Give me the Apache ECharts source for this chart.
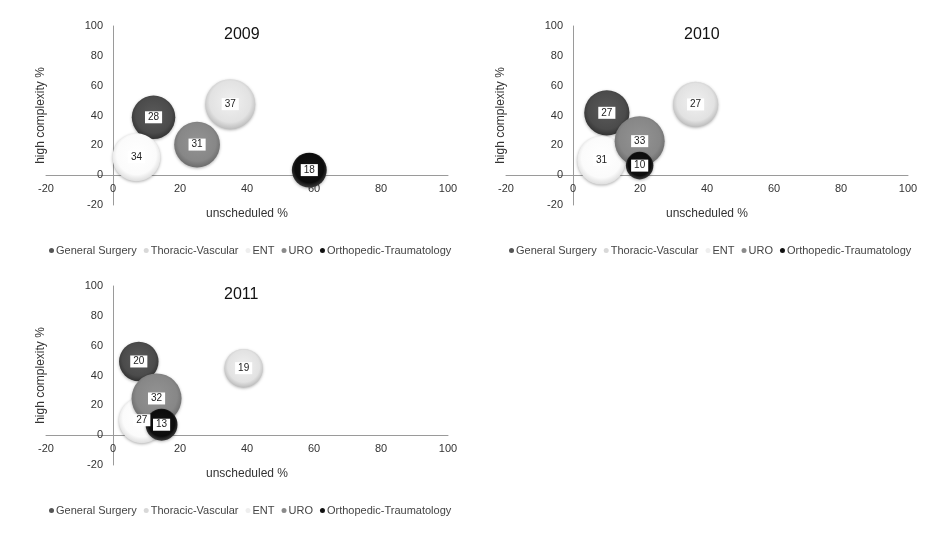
<!DOCTYPE html>
<html>
<head>
<meta charset="utf-8">
<script src="https://cdn.jsdelivr.net/npm/echarts@6/dist/echarts.min.js"></script>
<style>
html,body{margin:0;padding:0;background:#fff;}
#c{width:950px;height:555px;}
</style>
</head>
<body>
<div id="c"></div>
<script>
// ---- data ----
var seriesNames = ['General Surgery', 'Thoracic-Vascular', 'ENT', 'URO', 'Orthopedic-Traumatology'];
var years = ['2009', '2010', '2011'];
// [unscheduled %, high complexity %, size]
var data2009 = [
  [12.1, 38.8, 28],
  [35.0, 47.6, 37],
  [7.0, 12.0, 34],
  [25.1, 20.5, 31],
  [58.6, 3.4, 18]
];
var data2010 = [
  [10.1, 41.8, 27],
  [36.6, 47.4, 27],
  [8.5, 10.0, 31],
  [19.9, 22.8, 33],
  [19.9, 6.4, 10]
];
var data2011 = [
  [7.7, 49.4, 20],
  [39.0, 44.9, 19],
  [8.6, 10.0, 27],
  [13.0, 24.6, 32],
  [14.5, 7.0, 13]
];
var yearData = [data2009, data2010, data2011];
var axisTicks = [-20, 0, 20, 40, 60, 80, 100];

// ---- styles ----
function grad(light, base, dark) {
  return new echarts.graphic.RadialGradient(0.5, 0.45, 0.55, [
    {offset: 0, color: light},
    {offset: 0.75, color: base},
    {offset: 1, color: dark}
  ]);
}
var colors = [
  grad('#5a5a5a', '#4b4b4b', '#333333'),
  grad('#f0f0f0', '#e2e2e2', '#bdbdbd'),
  grad('#ffffff', '#fbfbfb', '#dedede'),
  grad('#939393', '#878787', '#6c6c6c'),
  grad('#151515', '#0c0c0c', '#3a3a3a')
];
var legendColors = ['#555555', '#d8d8d8', '#eeeeee', '#8a8a8a', '#111111'];
var FONT = 'Liberation Sans, Arial, Helvetica, sans-serif';

var grids = [
  {left: 46, top: 26, width: 402, height: 179},
  {left: 506, top: 26, width: 402, height: 179},
  {left: 46, top: 286, width: 402, height: 179}
];
var titlePos = [[224, 27], [684, 27], [224, 287]];
var legendPos = [[44, 240], [504, 240], [44, 500]];

var option = {
  backgroundColor: '#fff',
  animation: false,
  title: [], grid: [], xAxis: [], yAxis: [], legend: [], series: []
};

var aMin = axisTicks[0], aMax = axisTicks[axisTicks.length - 1];
var zeroFrac = (0 - aMin) / (aMax - aMin);

years.forEach(function (yr, gi) {
  var g = grids[gi];
  option.title.push({
    text: yr, left: titlePos[gi][0], top: titlePos[gi][1], padding: 0,
    textStyle: {fontFamily: FONT, fontSize: 16, fontWeight: 'normal', color: '#111'}
  });
  option.grid.push(Object.assign({containLabel: false, outerBoundsMode: 'none'}, g));
  var axisCommon = {
    type: 'value', gridIndex: gi,
    min: aMin, max: aMax, interval: 20,
    splitLine: {show: false},
    axisTick: {show: false},
    axisLine: {onZero: false, lineStyle: {color: '#9a9a9a', width: 1}},
    nameLocation: 'middle',
    nameTextStyle: {color: '#333', fontSize: 12, fontFamily: FONT}
  };
  option.xAxis.push(Object.assign({}, axisCommon, {
    position: 'bottom', offset: -g.height * zeroFrac,
    name: 'unscheduled %', nameGap: 33,
    axisLabel: {color: '#333', fontSize: 11, fontFamily: FONT, margin: 8}
  }));
  option.yAxis.push(Object.assign({}, axisCommon, {
    position: 'left', offset: -g.width * zeroFrac,
    name: 'high complexity %', nameGap: 66,
    axisLabel: {color: '#333', fontSize: 11, fontFamily: FONT, margin: 10}
  }));
  option.legend.push({
    left: legendPos[gi][0], top: legendPos[gi][1],
    orient: 'horizontal', icon: 'circle', itemWidth: 5, itemHeight: 5, itemGap: 7,
    selectedMode: false,
    textStyle: {color: '#444', fontSize: 11, fontFamily: FONT, padding: [0, 0, 0, -3]},
    data: seriesNames.map(function (n, i) {
      return {name: n, itemStyle: {color: legendColors[i]}};
    })
  });
  var dat = yearData[gi];
  var maxSize = Math.max.apply(null, dat.map(function (d) { return d[2]; }));
  seriesNames.forEach(function (name, si) {
    option.series.push({
      name: name, type: 'scatter', xAxisIndex: gi, yAxisIndex: gi,
      data: [dat[si]],
      symbolSize: function (v) { return 50 * Math.sqrt(v[2] / maxSize); },
      itemStyle: {
        color: colors[si], opacity: 1,
        shadowBlur: 3, shadowColor: 'rgba(0,0,0,0.3)', shadowOffsetY: 1
      },
      label: {
        show: true, position: 'inside',
        formatter: function (p) { return p.value[2]; },
        backgroundColor: '#fff', padding: [1, 3], lineHeight: 10,
        color: '#222', fontSize: 10, fontFamily: FONT
      },
      emphasis: {disabled: true}
    });
  });
});

var chart = echarts.init(document.getElementById('c'), null, {renderer: 'canvas'});
chart.setOption(option);
</script>
</body>
</html>
